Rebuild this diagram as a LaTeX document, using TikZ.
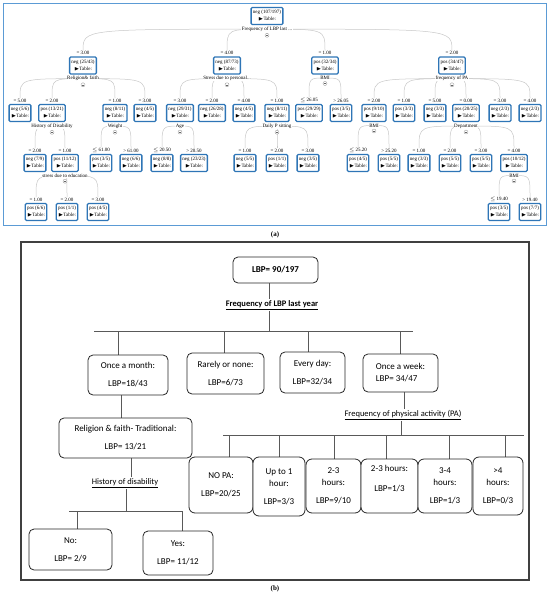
\documentclass[tikz,border=0pt]{standalone}
\usepackage{amssymb}
\usepackage{fontspec}
\setmainfont{Liberation Serif}
\newfontfamily\calibri{Carlito}
\usepackage{tikz}
\usetikzlibrary{positioning,backgrounds,calc}
\definecolor{knimeblue}{RGB}{46,117,182}
\definecolor{frameblue}{RGB}{91,155,213}
% styles of the upper tree (a)
\tikzstyle{tbox} = [draw=knimeblue, line width=1.3pt, rounded corners=1.2pt, fill=white, align=center, inner xsep=1.8pt, inner ysep=1pt, minimum height=17pt, font=\fontsize{5}{7}\selectfont]
\tikzstyle{tval} = [inner sep=0.5pt, font=\fontsize{5}{6}\selectfont]
\tikzstyle{tattr} = [inner sep=0.5pt, fill=white, font=\fontsize{5}{6}\selectfont]
\tikzstyle{tfold} = [circle, draw=black!45, fill=white, line width=0.3pt, inner sep=0pt, minimum size=4pt, path picture={\draw[black!60, line width=0.3pt] ([xshift=0.8pt]path picture bounding box.west) -- ([xshift=-0.8pt]path picture bounding box.east);}]
\tikzstyle{tline} = [draw=black!22, line width=0.5pt]
% styles of the lower tree (b)
\tikzstyle{lbox} = [draw=black!85, line width=0.8pt, rounded corners=5pt, fill=white, align=center, inner sep=2pt, font=\calibri\fontsize{9}{12}\selectfont]
\tikzstyle{llabel} = [fill=white, inner sep=1pt, font=\calibri\fontsize{8.5}{10}\selectfont]
\tikzstyle{lline} = [draw=black!65, line width=0.8pt]
% tree node: name, x, y, split value, counts
\newcommand{\tnode}[5]{%
  \node[tbox] (#1) at (#2,#3) {#5\\$\blacktriangleright$Table:};
  \node[tval, above=1pt of #1] (#1-val) {#4};}
% split attribute under a node
\newcommand{\tsplit}[2]{%
  \node[tattr, below=1pt of #1] (#1-attr) {#2};
  \node[tfold, below=1pt of #1-attr] (#1-fold) {};}
% curved edge from parent split to child
\newcommand{\tedge}[2]{%
  \draw[tline] (#1-attr.center) .. controls (#2-val.north |- #1-attr.center) .. (#2-val.north);}

\begin{document}
\begin{tikzpicture}[x=1pt,y=-1pt]
    \useasboundingbox (0,0) rectangle (550,597);
    % (a) frame
    \draw[frameblue, line width=0.8pt] (3,3) rectangle (546,225);
    % Root
    \node[tbox] (R) at (267,16) {neg (107/197)\\$\blacktriangleright$Table:};
    \tsplit{R}{Frequency of LBP last ...}
    % level 1
    \tnode{A}{83}{65.5}{= 3.00}{neg (25/43)}
    \tnode{B}{227}{65.5}{= 4.00}{neg (87/73)}
    \tnode{C}{325}{65.5}{= 1.00}{pos (32/34)}
    \tnode{D}{452}{65.5}{= 2.00}{pos (34/47)}
    \tsplit{A}{Religion\& faith}
    \tsplit{B}{Stress due to personal...}
    \tsplit{C}{BMI}
    \tsplit{D}{frequency of PA}
    % level 2
    \tnode{A1}{20}{113}{= 5.00}{neg (5/6)}
    \tnode{A2}{52}{113}{= 2.00}{pos (13/21)}
    \tnode{A3}{115}{113}{= 1.00}{neg (8/11)}
    \tnode{A4}{145}{113}{= 3.00}{neg (4/5)}
    \tnode{B1}{180}{113}{= 3.00}{neg (29/31)}
    \tnode{B2}{212}{113}{= 2.00}{neg (26/28)}
    \tnode{B3}{244}{113}{= 4.00}{neg (4/5)}
    \tnode{B4}{277}{113}{= 1.00}{neg (8/11)}
    \tnode{C1}{309}{113}{$\leq$ 26.05}{pos (29/29)}
    \tnode{C2}{341}{113}{> 26.05}{pos (3/5)}
    \tnode{D1}{374}{113}{= 2.00}{pos (9/10)}
    \tnode{D2}{404}{113}{= 1.00}{pos (3/3)}
    \tnode{D3}{435}{113}{= 5.00}{neg (3/3)}
    \tnode{D4}{466}{113}{= 0.00}{pos (20/25)}
    \tnode{D5}{500}{113}{= 3.00}{neg (2/3)}
    \tnode{D6}{530}{113}{= 4.00}{neg (2/3)}
    \tsplit{A2}{History of Disability}
    \tsplit{A3}{Weight}
    \tsplit{B1}{Age}
    \tsplit{B4}{Daily P sitting}
    \tsplit{D1}{BMI}
    \tsplit{D4}{Department}
    % level 3
    \tnode{A21}{35}{163}{= 2.00}{neg (7/9)}
    \tnode{A22}{65}{163}{= 1.00}{pos (11/12)}
    \tnode{A31}{101}{163}{$\leq$ 61.00}{pos (3/5)}
    \tnode{A32}{131}{163}{> 61.00}{neg (6/6)}
    \tnode{B11}{162}{163}{$\leq$ 20.50}{neg (8/8)}
    \tnode{B12}{194}{163}{> 20.50}{neg (23/23)}
    \tnode{B41}{245}{163}{= 1.00}{neg (5/5)}
    \tnode{B42}{277}{163}{= 2.00}{pos (1/1)}
    \tnode{B43}{308}{163}{= 3.00}{neg (3/5)}
    \tnode{D11}{358}{163}{$\leq$ 25.20}{pos (4/5)}
    \tnode{D12}{389}{163}{> 25.20}{pos (5/5)}
    \tnode{D41}{419}{163}{= 1.00}{neg (3/3)}
    \tnode{D42}{450}{163}{= 2.00}{pos (5/5)}
    \tnode{D43}{481}{163}{= 3.00}{pos (5/5)}
    \tnode{D44}{514}{163}{= 4.00}{pos (10/12)}
    \tsplit{A22}{stress due to education}
    \tsplit{D44}{BMI}
    % level 4
    \tnode{A221}{36}{212}{= 1.00}{pos (6/6)}
    \tnode{A222}{67}{212}{= 2.00}{pos (1/1)}
    \tnode{A223}{98}{212}{= 3.00}{pos (4/5)}
    \tnode{D441}{499}{212}{$\leq$ 19.40}{pos (3/5)}
    \tnode{D442}{530}{212}{> 19.40}{pos (7/7)}
    \begin{scope}[on background layer]
      \tedge{R}{A} \tedge{R}{B} \tedge{R}{C} \tedge{R}{D}
      \tedge{A}{A1} \tedge{A}{A2} \tedge{A}{A3} \tedge{A}{A4}
      \tedge{B}{B1} \tedge{B}{B2} \tedge{B}{B3} \tedge{B}{B4}
      \tedge{C}{C1} \tedge{C}{C2}
      \tedge{D}{D1} \tedge{D}{D2} \tedge{D}{D3} \tedge{D}{D4} \tedge{D}{D5} \tedge{D}{D6}
      \tedge{A2}{A21} \tedge{A2}{A22}
      \tedge{A3}{A31} \tedge{A3}{A32}
      \tedge{B1}{B11} \tedge{B1}{B12}
      \tedge{B4}{B41} \tedge{B4}{B42} \tedge{B4}{B43}
      \tedge{D1}{D11} \tedge{D1}{D12}
      \tedge{D4}{D41} \tedge{D4}{D42} \tedge{D4}{D43} \tedge{D4}{D44}
      \tedge{A22}{A221} \tedge{A22}{A222} \tedge{A22}{A223}
      \tedge{D44}{D441} \tedge{D44}{D442}
    \end{scope}
    \node[font=\bfseries\fontsize{7}{8}\selectfont] (CapA) at (275,235) {(a)};

    % (b) frame
    \draw[black!75, line width=1.2pt] (21,242) rectangle (529,580);
    % Root
    \node[lbox, minimum width=85pt, minimum height=26pt, font=\calibri\bfseries\fontsize{9}{12}\selectfont] (LBPRoot) at (275.5,270) {LBP= 90/197};
    \node[llabel, font=\calibri\bfseries\fontsize{8.5}{10}\selectfont] (FreqLabel) at (272,305) {\underline{Frequency of LBP last year}};
    % frequency of LBP
    \node[lbox, minimum width=80pt, minimum height=40pt] (OnceMonth) at (128,375) {Once a month:\\[6pt]LBP=18/43};
    \node[lbox, minimum width=77pt, minimum height=41pt] (Rarely) at (225.5,373.5) {Rarely or none:\\[6pt]LBP=6/73};
    \node[lbox, minimum width=65pt, minimum height=41pt] (EveryDay) at (312.5,372.5) {Every day:\\[6pt]LBP=32/34};
    \node[lbox, minimum width=75pt, minimum height=38pt, align=left] (OnceWeek) at (400.5,373) {Once a week:\\LBP= 34/47};
    % once a month branch
    \node[lbox, minimum width=133pt, minimum height=40pt] (Religion) at (125.5,438) {Religion \& faith- Traditional:\\[6pt]LBP= 13/21};
    \node[llabel] (HistLabel) at (125,483) {\underline{History of disability}};
    \node[lbox, minimum width=83pt, minimum height=41pt] (HistNo) at (70.5,549.5) {No:\\[6pt]LBP= 2/9};
    \node[lbox, minimum width=70pt, minimum height=44pt] (HistYes) at (178,553) {Yes:\\[6pt]LBP= 11/12};
    % once a week branch
    \node[llabel] (PALabel) at (403,415) {\underline{Frequency of physical activity (PA)}};
    \node[lbox, minimum width=64pt, minimum height=56pt, rounded corners=6pt] (NoPA) at (221,485) {NO PA:\\[6pt]LBP=20/25};
    \node[lbox, minimum width=52pt, minimum height=59pt, rounded corners=6pt] (UpOne) at (279,486.5) {Up to 1\\hour:\\[6pt]LBP=3/3};
    \node[lbox, minimum width=55pt, minimum height=54pt, rounded corners=6pt] (TwoThreeA) at (333.5,486) {2-3\\hours:\\[6pt]LBP=9/10};
    \node[lbox, minimum width=57pt, minimum height=54pt, rounded corners=6pt] (TwoThreeB) at (389.5,486) {2-3 hours:\\[8pt]LBP=1/3\\[4pt]~};
    \node[lbox, minimum width=54pt, minimum height=54pt, rounded corners=6pt] (ThreeFour) at (445,486) {3-4\\hours:\\[6pt]LBP=1/3};
    \node[lbox, minimum width=50pt, minimum height=58pt, rounded corners=6pt] (OverFour) at (498,486) {>4\\hours:\\[6pt]LBP=0/3};
    % connectors
    \coordinate (FreqJoint) at (269,331);
    \coordinate (FreqL) at (94,331);
    \coordinate (FreqR) at (413,331);
    \coordinate (DropMonth) at (118,331);
    \coordinate (DropRarely) at (224,331);
    \coordinate (DropDay) at (308,331);
    \coordinate (DropWeek) at (400,331);
    \coordinate (MonthStem) at (121,400);
    \coordinate (RelStem) at (131,470);
    \coordinate (HistJoint) at (126,511);
    \coordinate (HistL) at (69,511);
    \coordinate (HistR) at (182,511);
    \coordinate (DropNo) at (77,511);
    \coordinate (DropYes) at (182,511);
    \coordinate (WeekStem) at (404,400);
    \coordinate (PAJoint) at (401,435);
    \coordinate (PAL) at (223,435);
    \coordinate (PAR) at (524,435);
    \coordinate (DropNoPA) at (229,435);
    \coordinate (DropUpOne) at (279,435);
    \coordinate (DropTwoA) at (334,435);
    \coordinate (DropTwoB) at (386,435);
    \coordinate (DropThree) at (449,435);
    \coordinate (DropFour) at (505,435);
    \begin{scope}[on background layer]
      \draw[lline] (LBPRoot.south -| FreqJoint) -- (FreqJoint);
      \draw[lline] (FreqL) -- (FreqR);
      \draw[lline] (DropMonth) -- (DropMonth |- OnceMonth.north);
      \draw[lline] (DropRarely) -- (DropRarely |- Rarely.north);
      \draw[lline] (DropDay) -- (DropDay |- EveryDay.north);
      \draw[lline] (DropWeek) -- (DropWeek |- OnceWeek.north);
      \draw[lline] (OnceMonth.south -| MonthStem) -- (Religion.north -| MonthStem);
      \draw[lline] (Religion.south -| RelStem) -- (HistLabel.center -| RelStem);
      \draw[lline] (HistLabel.center -| HistJoint) -- (HistJoint);
      \draw[lline] (HistL) -- (HistR);
      \draw[lline] (DropNo) -- (DropNo |- HistNo.north);
      \draw[lline] (DropYes) -- (DropYes |- HistYes.north);
      \draw[lline] (OnceWeek.south -| WeekStem) -- (PALabel.center -| WeekStem);
      \draw[lline] (PALabel.center -| PAJoint) -- (PAJoint);
      \draw[lline] (PAL) -- (PAR);
      \draw[lline] (DropNoPA) -- (DropNoPA |- NoPA.north);
      \draw[lline] (DropUpOne) -- (DropUpOne |- UpOne.north);
      \draw[lline] (DropTwoA) -- (DropTwoA |- TwoThreeA.north);
      \draw[lline] (DropTwoB) -- (DropTwoB |- TwoThreeB.north);
      \draw[lline] (DropThree) -- (DropThree |- ThreeFour.north);
      \draw[lline] (DropFour) -- (DropFour |- OverFour.north);
    \end{scope}
    \node[font=\bfseries\fontsize{7}{8}\selectfont] (CapB) at (275,589) {(b)};
\end{tikzpicture}
\end{document}
